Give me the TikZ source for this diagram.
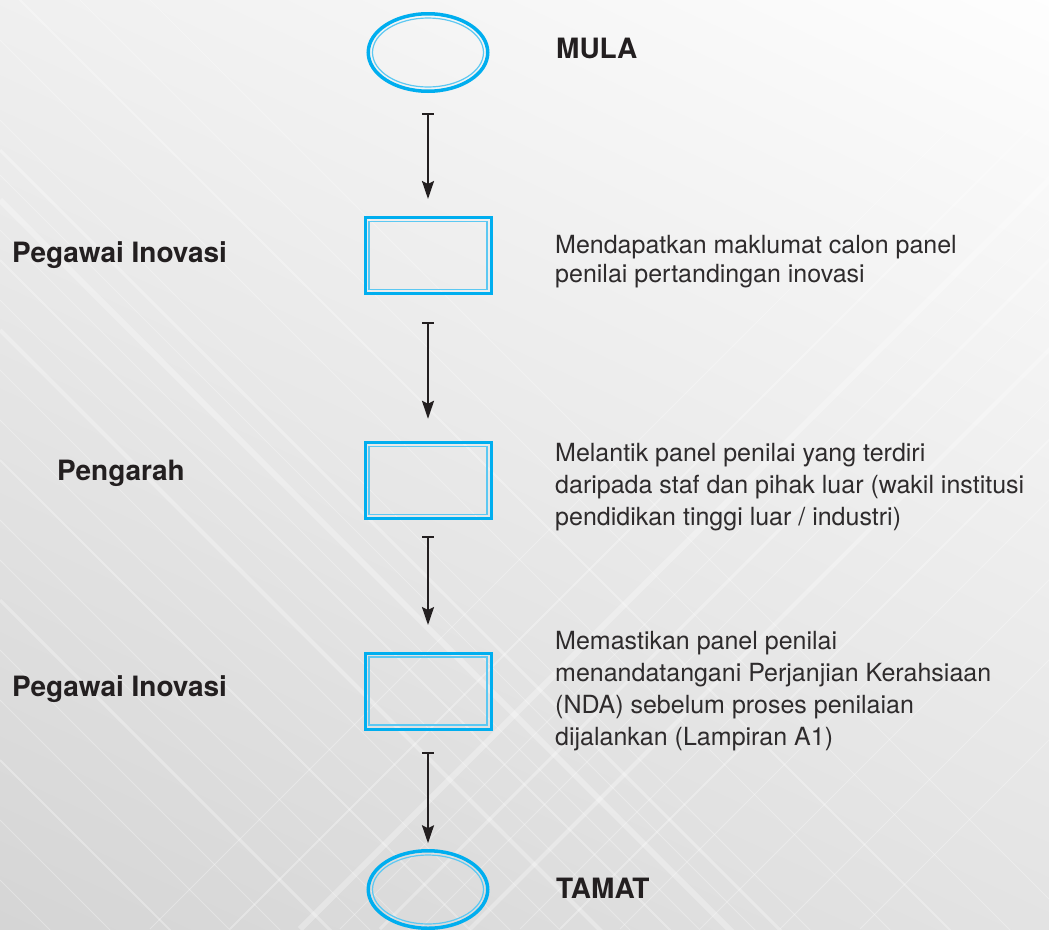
\documentclass[tikz,border=0pt]{standalone}
\usepackage{fontspec}
\setmainfont{TeX Gyre Heros}
\usetikzlibrary{arrows.meta,shapes.geometric}
\definecolor{cyanline}{HTML}{00AEEF}
\definecolor{cyanlight}{HTML}{5CC8F2}
\definecolor{ink}{HTML}{231F20}
\definecolor{bodyink}{HTML}{2E2B2C}
\begin{document}
\begin{tikzpicture}[x=1pt,y=-1pt,
 terminal/.style={ellipse, draw=cyanline, line width=3.5pt, minimum width=119.5pt, minimum height=77.5pt, inner sep=0pt, outer sep=0pt},
 process/.style={rectangle, draw=cyanline, line width=3pt, minimum width=126pt, minimum height=76pt, inner sep=0pt, outer sep=0pt},
 innerline/.style={draw=cyanlight, line width=1.2pt},
 flow/.style={draw=ink, line width=2.2pt, {Bar[width=12pt,line width=2pt]}-{Stealth[length=18pt,width=12pt,inset=3pt]}},
 role/.style={font=\fontsize{28}{34}\selectfont\bfseries, text=ink, anchor=base west, inner sep=0pt},
 desc/.style={font=\fontsize{25}{32}\selectfont, text=bodyink, anchor=base west, align=left, inner sep=0pt},
 streak/.style={white, opacity=0.3},
]
\useasboundingbox (0,0) rectangle (1049,929);
% background
\begin{scope}
\clip (0,0) rectangle (1049,929);
\shade[top color=white, bottom color=black!17, shading angle=-25] (-200,-200) rectangle (1249,1129);
\foreach \o/\w in {120/1pt,150/3pt,175/1pt,200/6pt,230/1pt,260/2pt,300/1pt,330/4pt,370/1pt,420/1pt,460/2pt,520/1pt,560/1pt,600/3pt,650/1pt,700/1pt,760/2pt,820/1pt,880/1pt}
  \draw[streak, line width=\w] (0,\o) -- ++(900,900);
\foreach \o/\w in {-150/1pt,-80/1pt,-20/2pt,40/1pt}
  \draw[streak, line width=\w] (0,\o) -- ++(1100,1100);
\foreach \o/\w in {150/1pt,230/2pt,300/6pt,340/1pt,380/3pt,420/1pt,470/4pt,520/1pt,560/2pt,620/1pt,700/1pt,780/1pt,860/1pt}
  \draw[streak, line width=\w] (\o,929) -- ++(800,-800);
\end{scope}

% shapes
\node[terminal] (start) at (428,52.5) {};
\draw[innerline] (start.center) ellipse [x radius=55.5pt, y radius=34.5pt];
\node[process] (p1) at (428,255.5) {};
\draw[innerline] ([shift={(4pt,-4pt)}]p1.north west) rectangle ([shift={(-4pt,4pt)}]p1.south east);
\node[process] (p2) at (428,480.3) {};
\draw[innerline] ([shift={(4pt,-4pt)}]p2.north west) rectangle ([shift={(-4pt,4pt)}]p2.south east);
\node[process] (p3) at (428,691) {};
\draw[innerline] ([shift={(4pt,-4pt)}]p3.north west) rectangle ([shift={(-4pt,4pt)}]p3.south east);
\node[terminal] (end) at (428,889.5) {};
\draw[innerline] (end.center) ellipse [x radius=55.5pt, y radius=34.5pt];

% connectors
\draw[flow, shorten <=21.75pt, shorten >=18.5pt] (start) -- (p1);
\draw[flow, shorten <=28.5pt, shorten >=23.5pt] (p1) -- (p2);
\draw[flow, shorten <=18pt, shorten >=28pt] (p2) -- (p3);
\draw[flow, shorten <=22.5pt, shorten >=7.5pt] (p3) -- (end);

% labels
\node[role] (mula) at (556,58.5) {MULA};
\node[role] (tamat) at (556,898.5) {TAMAT};
\node[role] (r1) at (12,262.7) {Pegawai Inovasi};
\node[role] (r2) at (57,480) {Pengarah};
\node[role] (r3) at (12,696) {Pegawai Inovasi};

% descriptions (anchored at the baseline of the last line)
\node[desc, font=\fontsize{25}{29}\selectfont] (d1) at (555,282.3) {Mendapatkan maklumat calon panel\\penilai pertandingan inovasi};
\node[desc] (d2) at (555,525.1) {Melantik panel penilai yang terdiri\\daripada staf dan pihak luar (wakil institusi\\pendidikan tinggi luar / industri)};
\node[desc] (d3) at (555,745.3) {Memastikan panel penilai\\menandatangani Perjanjian Kerahsiaan\\(NDA) sebelum proses penilaian\\dijalankan (Lampiran A1)};
\end{tikzpicture}
\end{document}
